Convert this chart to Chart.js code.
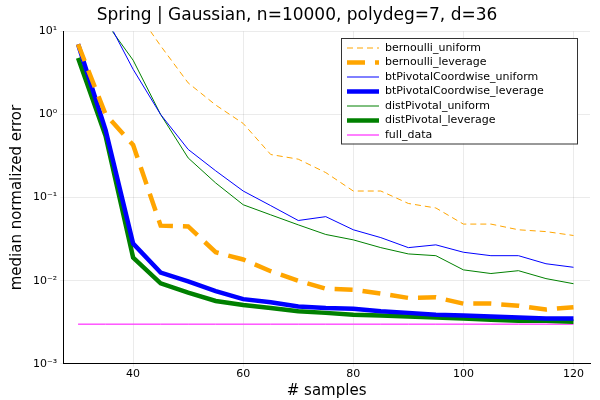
<!DOCTYPE html>
<html><head><meta charset="utf-8">
<script src="https://cdn.jsdelivr.net/npm/chart.js@4/dist/chart.umd.min.js"></script>
<style>body{margin:0;background:#fff}#wrap{width:600px;height:400px}</style>
</head><body><div id="wrap"><canvas id="c"></canvas></div>
<script>
const samples = [30,35,40,45,50,55,60,65,70,75,80,85,90,95,100,105,110,115,120];
const bernoulliUniform = [200,60,20,6.7,2.4,1.3,0.78,0.33,0.29,0.2,0.12,0.12,0.085,0.075,0.048,0.048,0.041,0.039,0.035];
const bernoulliLeverage = [7,1.0,0.43,0.046,0.045,0.022,0.018,0.013,0.01,0.008,0.0078,0.007,0.0062,0.0063,0.0053,0.0053,0.005,0.0045,0.0048];
const btUniform = [100,15,3.5,1.0,0.38,0.21,0.12,0.08,0.053,0.059,0.041,0.033,0.025,0.027,0.022,0.020,0.020,0.016,0.0145];
const btLeverage = [7,0.65,0.028,0.0125,0.0098,0.0075,0.006,0.0055,0.0049,0.0047,0.0046,0.0043,0.0041,0.0039,0.0038,0.0037,0.0036,0.0035,0.0035];
const distUniform = [80,13,4.5,1.0,0.3,0.15,0.082,0.062,0.047,0.036,0.031,0.025,0.021,0.02,0.0135,0.0122,0.0132,0.0106,0.0092];
const distLeverage = [4.8,0.55,0.019,0.0093,0.0072,0.0057,0.0051,0.0047,0.0043,0.0041,0.0039,0.0038,0.0037,0.0036,0.0035,0.0034,0.0033,0.0033,0.0032];
const fullData = samples.map(()=>0.003);
const yTickLabels = {'-3':'10⁻³','-2':'10⁻²','-1':'10⁻¹','0':'10⁰','1':'10¹'};

function pts(arr){ return arr.map((v,i)=>({x:samples[i],y:v})); }
function ds(label,data,color,width,dash){
  return {label,data:pts(data),borderColor:color,backgroundColor:color,borderWidth:width,borderDash:dash||[],pointRadius:0,tension:0,fill:false};
}

// legend box drawn inside the plot, top right
const boxLegend = {
  id:'boxLegend',
  afterDraw(chart){
    const ctx=chart.ctx;
    const x0=341, y0=38, w=236, rowH=14.5, n=chart.data.datasets.length;
    ctx.save();
    ctx.fillStyle='#fff'; ctx.fillRect(x0,y0,w,n*rowH+4);
    ctx.strokeStyle='#333'; ctx.lineWidth=1; ctx.strokeRect(x0+0.5,y0+0.5,w,n*rowH+4);
    ctx.font='11px "DejaVu Sans"'; ctx.textBaseline='middle'; ctx.fillStyle='#000';
    chart.data.datasets.forEach((d,i)=>{
      const y=y0+10+i*rowH;
      ctx.beginPath(); ctx.strokeStyle=d.borderColor; ctx.lineWidth=d.borderWidth;
      ctx.setLineDash(d.borderDash); ctx.moveTo(x0+6,y); ctx.lineTo(x0+38,y); ctx.stroke();
      ctx.setLineDash([]);
      ctx.fillText(d.label,x0+44,y);
    });
    ctx.restore();
  }
};

new Chart(document.getElementById('c'),{
  type:'line',
  data:{datasets:[
    ds('bernoulli_uniform',bernoulliUniform,'orange',1,[6,4]),
    ds('bernoulli_leverage',bernoulliLeverage,'orange',4.5,[18,10]),
    ds('btPivotalCoordwise_uniform',btUniform,'blue',1),
    ds('btPivotalCoordwise_leverage',btLeverage,'blue',4.5),
    ds('distPivotal_uniform',distUniform,'green',1),
    ds('distPivotal_leverage',distLeverage,'green',4.5),
    ds('full_data',fullData,'magenta',1)
  ]},
  options:{
    responsive:true,maintainAspectRatio:false,animation:false,
    layout:{padding:{left:4,right:10,top:3,bottom:0}},
    plugins:{
      legend:{display:false},
      title:{display:true,text:'Spring | Gaussian, n=10000, polydeg=7, d=36',font:{family:'DejaVu Sans',size:17,weight:'normal'},color:'#000',padding:{top:2,bottom:6}}
    },
    scales:{
      x:{type:'linear',min:27.3,max:123,
        afterBuildTicks(s){ s.ticks=[40,60,80,100,120].map(v=>({value:v})); },
        grid:{color:'rgba(0,0,0,0.08)',drawTicks:true,tickLength:3},border:{color:'#000'},
        ticks:{color:'#000',font:{family:'DejaVu Sans',size:11},maxRotation:0,padding:1},
        title:{display:true,text:'# samples',color:'#000',font:{family:'DejaVu Sans',size:15},padding:{top:0,bottom:0}}},
      y:{type:'logarithmic',min:0.001,max:10,
        afterBuildTicks(s){ s.ticks=[-3,-2,-1,0,1].map(e=>({value:Math.pow(10,e)})); },
        grid:{color:'rgba(0,0,0,0.08)',tickLength:3},border:{color:'#000'},
        ticks:{color:'#000',font:{family:'DejaVu Sans',size:11},callback:(v)=>yTickLabels[String(Math.round(Math.log10(v)))]},
        title:{display:true,text:'median normalized error',color:'#000',font:{family:'DejaVu Sans',size:15}}}
    }
  },
  plugins:[boxLegend]
});
</script></body></html>
